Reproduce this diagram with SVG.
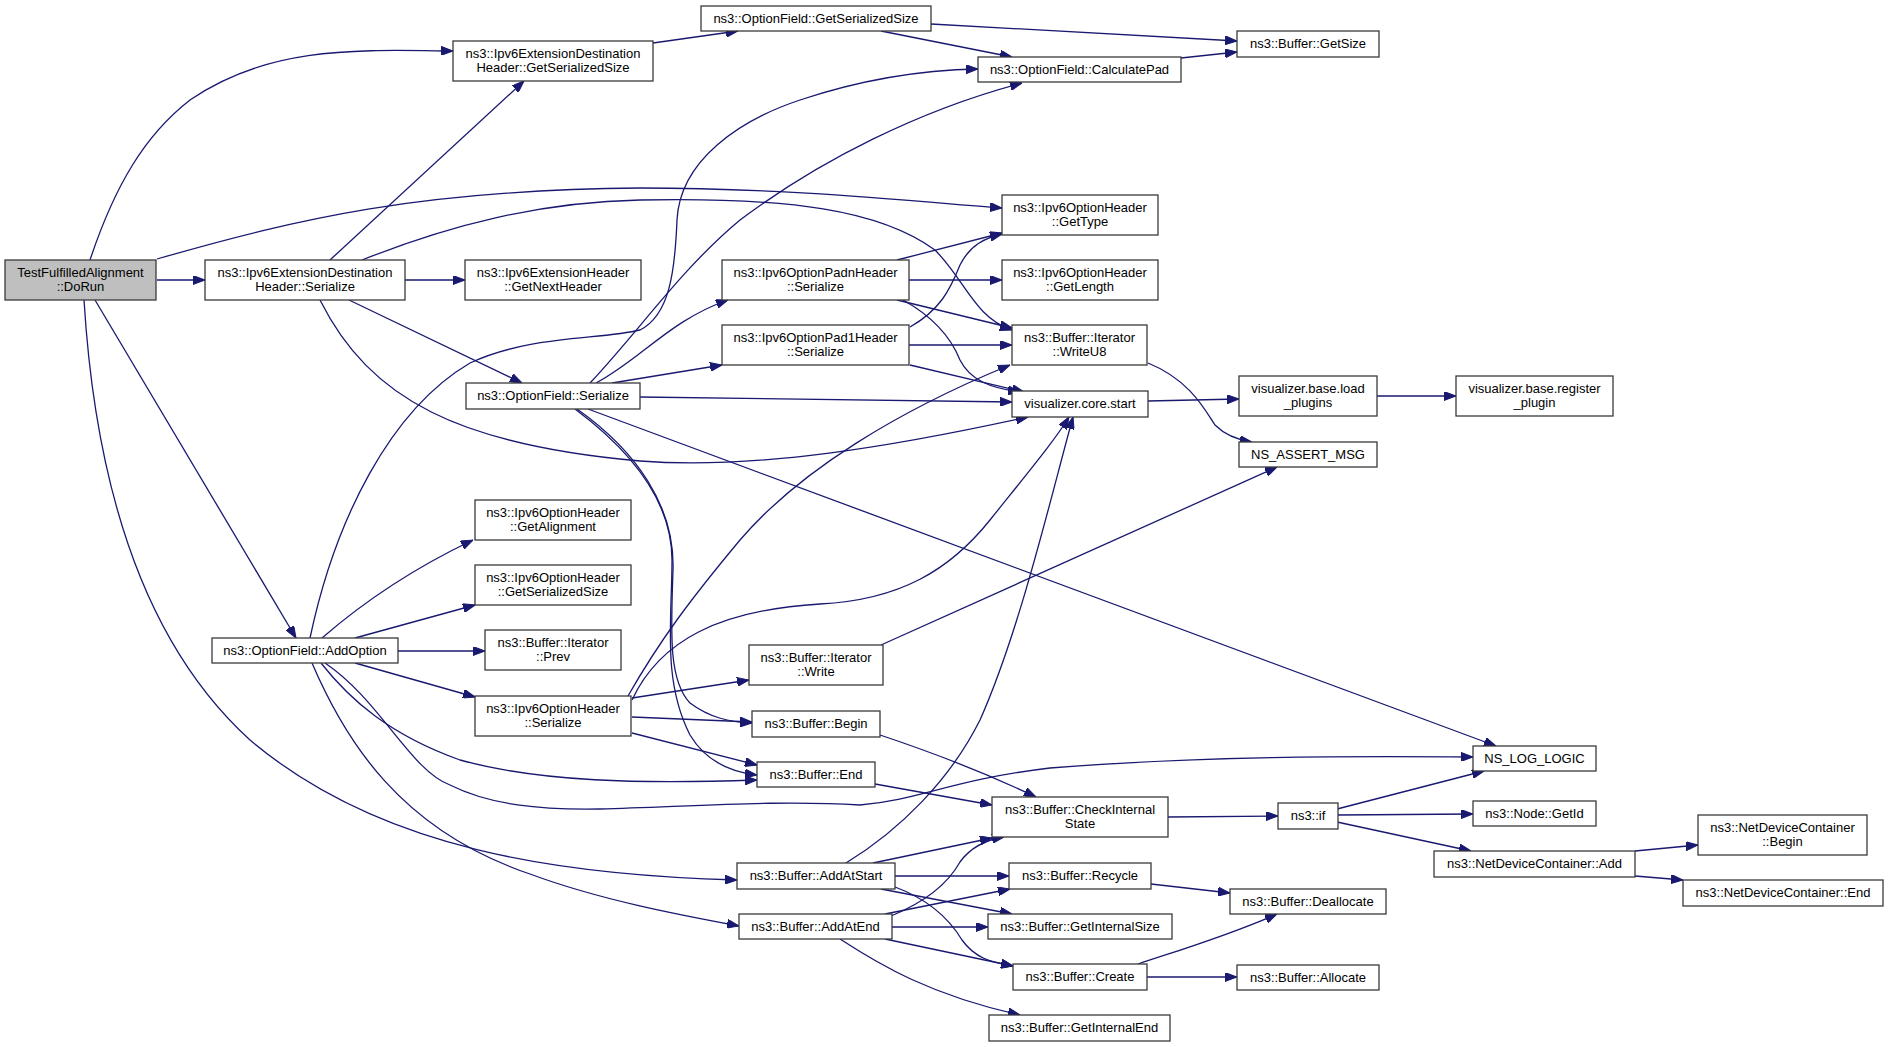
<svg xmlns="http://www.w3.org/2000/svg" width="1888" height="1047" viewBox="0 0 1888 1047">
<style>
.n rect{fill:#fff;stroke:#3a3a3a;stroke-width:1.3}
.n.root rect{fill:#bfbfbf}
.n text{font-family:"Liberation Sans",Arial,sans-serif;font-size:13px;fill:#000;text-anchor:middle}
#edges path{fill:none;stroke:#191970;stroke-width:1.3;marker-end:url(#a)}
</style>
<defs>
<marker id="a" viewBox="0 0 12 9" refX="12" refY="4.5" markerWidth="12" markerHeight="9" markerUnits="userSpaceOnUse" orient="auto"><path d="M0,0 L12,4.5 L0,9 z" fill="#191970" stroke="#191970" stroke-width="1"/></marker>
</defs>
<rect width="1888" height="1047" fill="#fff"/>
<g id="edges">
<path d="M90,260 C115,185 145,135 190,100 C270,45 360,50 453,51"/>
<path d="M157,259 C300,218 420,190 640,188 C780,188 900,200 1002,208"/>
<path d="M157,280 L205,280"/>
<path d="M95,300 L296,638"/>
<path d="M84,300 C95,480 140,640 250,740 C380,850 560,875 737,880"/>
<path d="M330,260 L524,81"/>
<path d="M405,280 L465,280"/>
<path d="M362,260 C450,225 540,202 640,200 C790,197 880,210 935,250 C965,280 975,318 1012,330"/>
<path d="M349,300 L522,383"/>
<path d="M320,300 C370,400 460,445 640,461 C760,470 900,445 1028,417"/>
<path d="M653,43 L738,31"/>
<path d="M931,24 C1050,30 1150,36 1237,41"/>
<path d="M881,31 L1012,57"/>
<path d="M1181,58 L1237,52"/>
<path d="M310,638 C335,520 390,410 470,363 C530,335 600,340 640,330 C670,315 675,270 677,220 C680,160 740,120 800,100 C860,80 920,70 978,69"/>
<path d="M590,383 C640,330 680,270 740,220 C820,160 920,110 1022,83"/>
<path d="M596,383 C640,360 670,320 728,300"/>
<path d="M612,383 L722,365"/>
<path d="M640,397 L1012,402"/>
<path d="M588,409 L1496,746"/>
<path d="M577,409 C635,450 675,505 673,570 C671,630 668,680 690,703 C710,718 730,722 752,723"/>
<path d="M575,409 C630,450 672,500 672,560 C672,620 662,680 690,735 C705,760 730,772 757,775"/>
<path d="M897,260 L1002,233"/>
<path d="M909,280 L1002,280"/>
<path d="M897,300 L1012,328"/>
<path d="M903,300 C930,315 950,335 960,360 C970,380 990,388 1020,392"/>
<path d="M910,327 C940,310 950,290 960,265 C970,245 985,238 1002,234"/>
<path d="M909,345 L1012,345"/>
<path d="M910,365 L1024,392"/>
<path d="M1148,363 C1190,380 1205,410 1215,425 C1225,435 1238,440 1252,442"/>
<path d="M1148,401 L1239,399"/>
<path d="M1377,396 L1456,396"/>
<path d="M322,638 C360,605 410,570 473,540"/>
<path d="M355,638 L475,605"/>
<path d="M398,651 L485,651"/>
<path d="M355,663 L475,697"/>
<path d="M321,663 C350,700 390,735 460,760 C540,782 640,784 757,780"/>
<path d="M325,663 C380,700 410,770 450,785 C490,805 540,810 600,809 C700,806 780,800 860,805 C920,800 950,780 1050,768 C1200,756 1350,756 1473,757"/>
<path d="M312,663 C345,740 400,830 530,874 C600,900 680,915 739,926"/>
<path d="M628,696 C660,640 690,600 740,540 C800,470 900,410 1010,365"/>
<path d="M632,700 C660,640 720,610 820,604 C900,600 950,570 990,520 C1030,470 1055,440 1069,417"/>
<path d="M632,698 L749,680"/>
<path d="M632,717 L752,722"/>
<path d="M632,733 L757,765"/>
<path d="M881,645 L1277,467"/>
<path d="M880,735 C940,755 990,775 1036,797"/>
<path d="M875,784 L992,805"/>
<path d="M1168,817 L1278,816"/>
<path d="M1337,809 L1484,771"/>
<path d="M1337,815 L1473,814"/>
<path d="M1337,822 L1471,851"/>
<path d="M1635,851 L1698,845"/>
<path d="M1635,876 L1683,880"/>
<path d="M846,863 C900,830 950,780 980,720 C1020,630 1050,500 1073,417"/>
<path d="M873,863 L992,838"/>
<path d="M895,876 L1009,876"/>
<path d="M881,889 L1012,914"/>
<path d="M895,887 C930,900 950,920 962,940 C975,958 990,962 1013,966"/>
<path d="M891,916 C930,900 950,880 960,862 C970,848 985,840 1004,837"/>
<path d="M885,914 L1010,889"/>
<path d="M892,927 L988,927"/>
<path d="M885,939 L1013,966"/>
<path d="M840,939 C880,965 930,995 1020,1015"/>
<path d="M1151,884 L1230,893"/>
<path d="M1138,964 C1180,950 1230,935 1277,914"/>
<path d="M1147,977 L1237,977"/>
</g>
<g id="n1" class="n root"><rect x="5" y="260" width="151" height="40"/><text x="80.5" y="276.5">TestFulfilledAlignment</text><text x="80.5" y="290.5">::DoRun</text></g>
<g id="n2" class="n"><rect x="453" y="41" width="200" height="40"/><text x="553" y="57.5">ns3::Ipv6ExtensionDestination</text><text x="553" y="71.5">Header::GetSerializedSize</text></g>
<g id="n3" class="n"><rect x="205" y="260" width="200" height="40"/><text x="305" y="276.5">ns3::Ipv6ExtensionDestination</text><text x="305" y="290.5">Header::Serialize</text></g>
<g id="n4" class="n"><rect x="465" y="260" width="176" height="40"/><text x="553" y="276.5">ns3::Ipv6ExtensionHeader</text><text x="553" y="290.5">::GetNextHeader</text></g>
<g id="n5" class="n"><rect x="701" y="6" width="230" height="25"/><text x="816" y="23">ns3::OptionField::GetSerializedSize</text></g>
<g id="n6" class="n"><rect x="978" y="57" width="203" height="25"/><text x="1079.5" y="74">ns3::OptionField::CalculatePad</text></g>
<g id="n7" class="n"><rect x="1237" y="31" width="142" height="26"/><text x="1308" y="48">ns3::Buffer::GetSize</text></g>
<g id="n8" class="n"><rect x="1002" y="195" width="156" height="40"/><text x="1080" y="211.5">ns3::Ipv6OptionHeader</text><text x="1080" y="225.5">::GetType</text></g>
<g id="n9" class="n"><rect x="722" y="260" width="187" height="40"/><text x="815.5" y="276.5">ns3::Ipv6OptionPadnHeader</text><text x="815.5" y="290.5">::Serialize</text></g>
<g id="n10" class="n"><rect x="1002" y="260" width="156" height="40"/><text x="1080" y="276.5">ns3::Ipv6OptionHeader</text><text x="1080" y="290.5">::GetLength</text></g>
<g id="n11" class="n"><rect x="722" y="325" width="187" height="40"/><text x="815.5" y="341.5">ns3::Ipv6OptionPad1Header</text><text x="815.5" y="355.5">::Serialize</text></g>
<g id="n12" class="n"><rect x="1012" y="325" width="135" height="40"/><text x="1079.5" y="341.5">ns3::Buffer::Iterator</text><text x="1079.5" y="355.5">::WriteU8</text></g>
<g id="n13" class="n"><rect x="466" y="383" width="174" height="26"/><text x="553" y="400">ns3::OptionField::Serialize</text></g>
<g id="n14" class="n"><rect x="1012" y="391" width="136" height="26"/><text x="1080" y="408">visualizer.core.start</text></g>
<g id="n15" class="n"><rect x="1239" y="376" width="138" height="40"/><text x="1308" y="392.5">visualizer.base.load</text><text x="1308" y="406.5">_plugins</text></g>
<g id="n16" class="n"><rect x="1456" y="376" width="157" height="40"/><text x="1534.5" y="392.5">visualizer.base.register</text><text x="1534.5" y="406.5">_plugin</text></g>
<g id="n17" class="n"><rect x="1239" y="442" width="138" height="25"/><text x="1308" y="459">NS_ASSERT_MSG</text></g>
<g id="n18" class="n"><rect x="475" y="500" width="156" height="40"/><text x="553" y="516.5">ns3::Ipv6OptionHeader</text><text x="553" y="530.5">::GetAlignment</text></g>
<g id="n19" class="n"><rect x="475" y="565" width="156" height="40"/><text x="553" y="581.5">ns3::Ipv6OptionHeader</text><text x="553" y="595.5">::GetSerializedSize</text></g>
<g id="n20" class="n"><rect x="212" y="638" width="186" height="25"/><text x="305" y="655">ns3::OptionField::AddOption</text></g>
<g id="n21" class="n"><rect x="485" y="630" width="136" height="40"/><text x="553" y="646.5">ns3::Buffer::Iterator</text><text x="553" y="660.5">::Prev</text></g>
<g id="n22" class="n"><rect x="475" y="696" width="156" height="40"/><text x="553" y="712.5">ns3::Ipv6OptionHeader</text><text x="553" y="726.5">::Serialize</text></g>
<g id="n23" class="n"><rect x="749" y="645" width="134" height="40"/><text x="816" y="661.5">ns3::Buffer::Iterator</text><text x="816" y="675.5">::Write</text></g>
<g id="n24" class="n"><rect x="752" y="711" width="128" height="26"/><text x="816" y="728">ns3::Buffer::Begin</text></g>
<g id="n25" class="n"><rect x="757" y="762" width="118" height="25"/><text x="816" y="779">ns3::Buffer::End</text></g>
<g id="n26" class="n"><rect x="992" y="797" width="176" height="40"/><text x="1080" y="813.5">ns3::Buffer::CheckInternal</text><text x="1080" y="827.5">State</text></g>
<g id="n27" class="n"><rect x="1473" y="746" width="123" height="25"/><text x="1534.5" y="763">NS_LOG_LOGIC</text></g>
<g id="n28" class="n"><rect x="1278" y="803" width="60" height="26"/><text x="1308" y="820">ns3::if</text></g>
<g id="n29" class="n"><rect x="1473" y="801" width="123" height="25"/><text x="1534.5" y="818">ns3::Node::GetId</text></g>
<g id="n30" class="n"><rect x="1434" y="851" width="201" height="26"/><text x="1534.5" y="868">ns3::NetDeviceContainer::Add</text></g>
<g id="n31" class="n"><rect x="1698" y="815" width="169" height="40"/><text x="1782.5" y="831.5">ns3::NetDeviceContainer</text><text x="1782.5" y="845.5">::Begin</text></g>
<g id="n32" class="n"><rect x="1683" y="880" width="200" height="26"/><text x="1783" y="897">ns3::NetDeviceContainer::End</text></g>
<g id="n33" class="n"><rect x="737" y="863" width="158" height="26"/><text x="816" y="880">ns3::Buffer::AddAtStart</text></g>
<g id="n34" class="n"><rect x="739" y="914" width="153" height="25"/><text x="815.5" y="931">ns3::Buffer::AddAtEnd</text></g>
<g id="n35" class="n"><rect x="1009" y="863" width="142" height="26"/><text x="1080" y="880">ns3::Buffer::Recycle</text></g>
<g id="n36" class="n"><rect x="988" y="914" width="184" height="25"/><text x="1080" y="931">ns3::Buffer::GetInternalSize</text></g>
<g id="n37" class="n"><rect x="1013" y="964" width="134" height="26"/><text x="1080" y="981">ns3::Buffer::Create</text></g>
<g id="n38" class="n"><rect x="989" y="1015" width="181" height="26"/><text x="1079.5" y="1032">ns3::Buffer::GetInternalEnd</text></g>
<g id="n39" class="n"><rect x="1230" y="889" width="156" height="25"/><text x="1308" y="906">ns3::Buffer::Deallocate</text></g>
<g id="n40" class="n"><rect x="1237" y="965" width="142" height="25"/><text x="1308" y="982">ns3::Buffer::Allocate</text></g>
</svg>
